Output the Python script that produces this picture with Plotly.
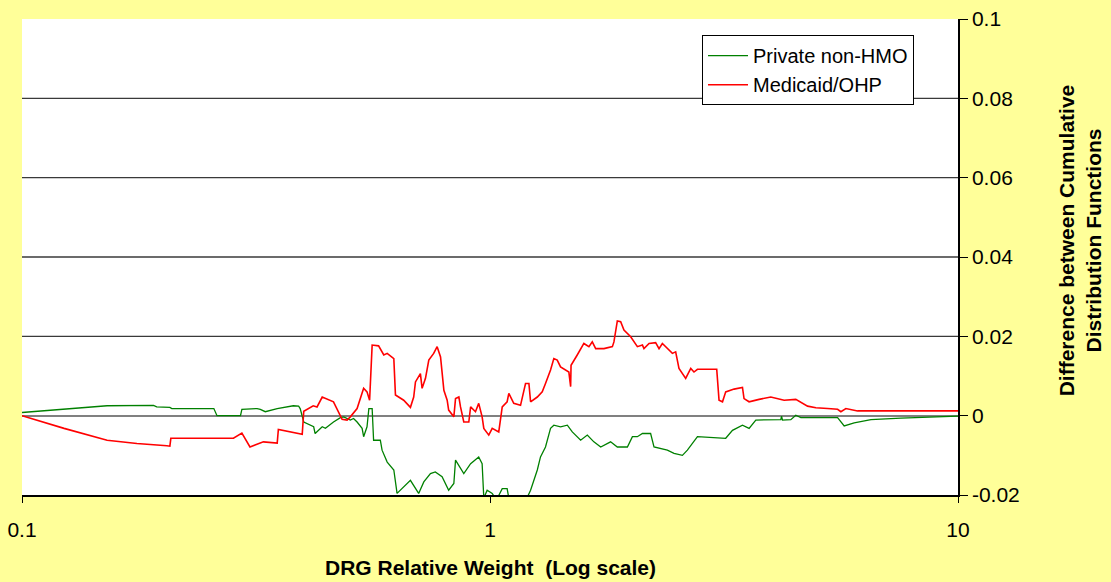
import plotly.graph_objects as go

# DRG relative weight (x, log scale) and difference between cumulative distribution functions (y)
medicaid_w = [0.1, 0.123, 0.152, 0.176, 0.204, 0.207, 0.208, 0.256, 0.283, 0.295,
              0.307, 0.328, 0.351, 0.353, 0.397, 0.400, 0.419, 0.427, 0.438, 0.463,
              0.483, 0.495, 0.503, 0.520, 0.537, 0.546, 0.553, 0.560, 0.578, 0.593,
              0.603, 0.623, 0.628, 0.654, 0.676, 0.687, 0.693, 0.710, 0.716, 0.728,
              0.740, 0.758, 0.771, 0.784, 0.797, 0.810, 0.816, 0.837, 0.844, 0.858,
              0.865, 0.879, 0.901, 0.909, 0.931, 0.946, 0.962, 0.970, 0.994, 1.011,
              1.044, 1.062, 1.088, 1.097, 1.124, 1.162, 1.191, 1.211, 1.221, 1.262,
              1.293, 1.314, 1.347, 1.369, 1.392, 1.415, 1.474, 1.487, 1.490, 1.536,
              1.562, 1.587, 1.627, 1.654, 1.682, 1.752, 1.826, 1.840, 1.871, 1.902,
              1.933, 1.998, 2.065, 2.117, 2.133, 2.187, 2.259, 2.297, 2.335, 2.412,
              2.453, 2.493, 2.534, 2.619, 2.685, 2.728, 2.775, 3.051, 3.086, 3.139,
              3.189, 3.323, 3.463, 3.490, 3.578, 3.758, 3.981, 4.250, 4.502, 4.770,
              4.970, 5.264, 5.530, 5.620, 5.760, 6.100, 10.0]
medicaid_d = [0.0, -0.0032, -0.0062, -0.0070, -0.0076, -0.0077, -0.0057, -0.0057, -0.0057, -0.0044,
              -0.0079, -0.0066, -0.0069, -0.0035, -0.0047, 0.0011, 0.0025, 0.0022, 0.0047, 0.0035,
              -0.0009, -0.0011, -0.0003, 0.0018, 0.0069, 0.0060, 0.0039, 0.0178, 0.0176, 0.0153,
              0.0157, 0.0144, 0.0052, 0.0039, 0.0021, 0.0047, 0.0085, 0.0106, 0.0069, 0.0094,
              0.0140, 0.0157, 0.0174, 0.0148, 0.0064, 0.0039, 0.0014, -0.0003, 0.0043, 0.0047,
              0.0022, -0.0016, -0.0016, 0.0022, 0.0010, 0.0031, -0.0003, -0.0032, -0.0049, -0.0032,
              -0.0041, 0.0022, 0.0035, 0.0056, 0.0031, 0.0026, 0.0081, 0.0081, 0.0035, 0.0047,
              0.0060, 0.0081, 0.0115, 0.0144, 0.0140, 0.0123, 0.0110, 0.0073, 0.0127, 0.0153,
              0.0169, 0.0182, 0.0174, 0.0186, 0.0169, 0.0169, 0.0174, 0.0186, 0.0239, 0.0237,
              0.0216, 0.0199, 0.0174, 0.0178, 0.0169, 0.0182, 0.0184, 0.0169, 0.0182, 0.0165,
              0.0157, 0.0161, 0.0119, 0.0094, 0.0119, 0.0110, 0.0117, 0.0117, 0.0039, 0.0035,
              0.0060, 0.0067, 0.0071, 0.0043, 0.0035, 0.0041, 0.0047, 0.0039, 0.0041, 0.0024,
              0.0020, 0.0018, 0.0016, 0.0010, 0.0018, 0.0012, 0.0012]

private_w = [0.1, 0.123, 0.152, 0.191, 0.194, 0.207, 0.209, 0.257, 0.261, 0.293,
             0.295, 0.318, 0.323, 0.331, 0.351, 0.380, 0.390, 0.393, 0.400, 0.420,
             0.423, 0.438, 0.445, 0.463, 0.479, 0.487, 0.503, 0.511, 0.520, 0.533,
             0.537, 0.546, 0.551, 0.560, 0.564, 0.583, 0.588, 0.603, 0.623, 0.633,
             0.665, 0.676, 0.704, 0.722, 0.746, 0.764, 0.790, 0.816, 0.837, 0.844,
             0.879, 0.909, 0.946, 0.962, 0.970, 0.986, 1.011, 1.032, 1.062, 1.088,
             1.097, 1.162, 1.201, 1.221, 1.262, 1.282, 1.314, 1.347, 1.369, 1.415,
             1.463, 1.499, 1.562, 1.614, 1.667, 1.724, 1.810, 1.871, 1.966, 2.015,
             2.065, 2.117, 2.204, 2.241, 2.393, 2.473, 2.577, 2.641, 2.775, 3.011,
             3.189, 3.297, 3.463, 3.578, 3.698, 4.182, 4.197, 4.217, 4.393, 4.502,
             4.615, 5.530, 5.712, 6.000, 6.516, 7.553, 8.897, 10.0]
private_d = [0.0008, 0.0016, 0.0025, 0.0026, 0.0022, 0.0021, 0.0018, 0.0018, 0.0000, 0.0000,
             0.0016, 0.0018, 0.0016, 0.0010, 0.0018, 0.0025, 0.0024, 0.0018, -0.0016, -0.0028,
             -0.0045, -0.0028, -0.0032, -0.0016, -0.0005, -0.0003, -0.0011, -0.0007, -0.0016, -0.0032,
             -0.0053, -0.0028, 0.0018, 0.0018, -0.0062, -0.0062, -0.0087, -0.0117, -0.0137, -0.0196,
             -0.0171, -0.0163, -0.0196, -0.0167, -0.0146, -0.0142, -0.0154, -0.0188, -0.0171, -0.0112,
             -0.0146, -0.0121, -0.0104, -0.0121, -0.0208, -0.0188, -0.0196, -0.0213, -0.0184, -0.0184,
             -0.0208, -0.0203, -0.0206, -0.0188, -0.0137, -0.0104, -0.0079, -0.0032, -0.0024, -0.0028,
             -0.0024, -0.0041, -0.0062, -0.0049, -0.0066, -0.0079, -0.0066, -0.0079, -0.0079, -0.0053,
             -0.0053, -0.0045, -0.0045, -0.0079, -0.0087, -0.0095, -0.0100, -0.0087, -0.0053, -0.0055,
             -0.0057, -0.0037, -0.0024, -0.0032, -0.0011, -0.0010, -0.0001, -0.0011, -0.0010, 0.0001,
             -0.0005, -0.0005, -0.0026, -0.0018, -0.0010, -0.0006, -0.0003, -0.0001]

series_names = ["Private non-HMO", "Medicaid/OHP"]
x_tick_vals = [0.1, 1, 10]
x_tick_text = ["0.1", "1", "10"]
y_tick_vals = [-0.02, 0, 0.02, 0.04, 0.06, 0.08, 0.1]
y_tick_text = ["-0.02", "0", "0.02", "0.04", "0.06", "0.08", "0.1"]
grid_levels = [0.02, 0.04, 0.06, 0.08]

assert len(medicaid_w) == len(medicaid_d)
assert len(private_w) == len(private_d)

FONT = "Liberation Sans, Arial, sans-serif"

fig = go.Figure()
fig.add_trace(go.Scatter(x=private_w, y=private_d, mode="lines", name=series_names[0],
                         line=dict(color="#008000", width=1.3)))
fig.add_trace(go.Scatter(x=medicaid_w, y=medicaid_d, mode="lines", name=series_names[1],
                         line=dict(color="#FF0000", width=1.6)))

for g in grid_levels:
    fig.add_shape(type="line", xref="paper", x0=0, x1=1, yref="y", y0=g, y1=g,
                  line=dict(color="#3a3a3a", width=1.3), layer="below")

fig.update_layout(
    width=1111, height=582,
    margin=dict(l=22, r=153, t=19, b=87, autoexpand=False),
    paper_bgcolor="#FFFF99",
    plot_bgcolor="#FFFFFF",
    font=dict(family=FONT, color="black", size=21),
    showlegend=True,
    legend=dict(x=0.7265, y=0.966, xanchor="left", yanchor="top",
                bgcolor="white", bordercolor="black", borderwidth=1,
                font=dict(family=FONT, size=20, color="black"),
                itemwidth=40, tracegroupgap=0),
    xaxis=dict(type="log", range=[-1, 1], tickvals=x_tick_vals, ticktext=x_tick_text,
               ticks="outside", ticklen=6, tickcolor="black", tickwidth=1,
               showline=True, linecolor="black", linewidth=1.5, automargin=False,
               showgrid=False, zeroline=False, ticklabelstandoff=9,
               tickfont=dict(size=21)),
    yaxis=dict(side="right", range=[-0.02, 0.1], tickvals=y_tick_vals, ticktext=y_tick_text,
               ticks="outside", ticklen=8, tickcolor="black", tickwidth=1,
               showline=True, linecolor="black", linewidth=1.5, automargin=False,
               showgrid=False, zeroline=True, zerolinecolor="#808080", zerolinewidth=2,
               tickfont=dict(size=21)),
    annotations=[
        dict(text="<b>DRG Relative Weight  (Log scale)</b>", xref="paper", yref="paper",
             x=0.5, y=-0.153, xanchor="center", yanchor="middle", showarrow=False,
             font=dict(size=21, family=FONT)),
        dict(text="<b>Difference between Cumulative<br>Distribution Functions</b>",
             xref="paper", yref="paper", x=1.1303, y=0.535, xanchor="center", yanchor="middle",
             textangle=-90, showarrow=False, font=dict(size=21, family=FONT)),
    ],
)

fig.write_html(
    "out.html",
    config={"displayModeBar": False},
    post_script="document.body.style.margin='0';document.body.style.padding='0';"
                "document.body.style.overflow='hidden';",
)
